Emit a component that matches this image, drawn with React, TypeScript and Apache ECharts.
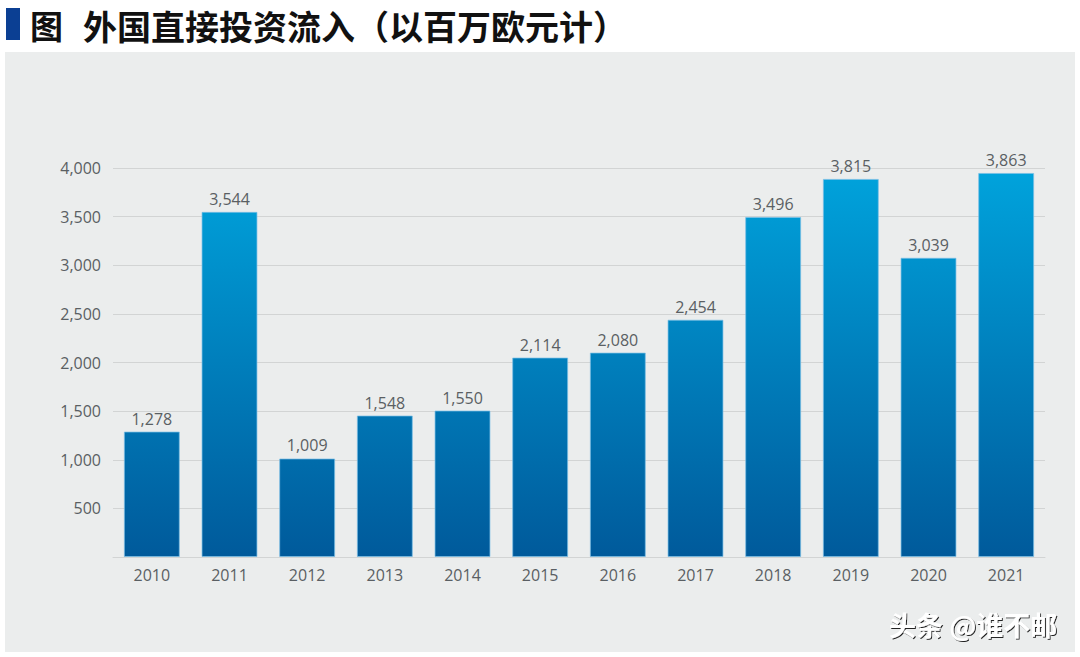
import React, { useEffect, useRef } from "react";
import * as echarts from "echarts";

const years = ["2010", "2011", "2012", "2013", "2014", "2015", "2016", "2017", "2018", "2019", "2020", "2021"];
// bar heights as drawn in the picture
const barValues = [1290, 3549, 1013, 1455, 1506, 2051, 2102, 2440, 3497, 3888, 3077, 3949];
// value labels as printed above the bars
const valueLabels = ["1,278", "3,544", "1,009", "1,548", "1,550", "2,114", "2,080", "2,454", "3,496", "3,815", "3,039", "3,863"];
const yTicks = [500, 1000, 1500, 2000, 2500, 3000, 3500, 4000];

const titleMark = "图";
const titleText = "外国直接投资流入（以百万欧元计）";
const watermark = "头条 @谁不邮";

export default function App() {
  const ref = useRef<HTMLDivElement>(null);
  useEffect(() => {
    if (!ref.current) return;
    const chart = echarts.init(ref.current, null, { renderer: "svg" });
    const font = "'Open Sans', Lato, sans-serif";
    chart.setOption({
      animation: false,
      backgroundColor: "#ffffff",
      graphic: [
        { type: "rect", z: -10, shape: { x: 5, y: 52, width: 1070, height: 600 }, style: { fill: "#ebeded" } },
        { type: "rect", shape: { x: 6, y: 8, width: 14, height: 32 }, style: { fill: "#0b3f93" } },
        {
          type: "text", x: 30, y: 25,
          style: {
            text: titleMark, fill: "#111111",
            font: "bold 33px 'Noto Sans CJK SC', sans-serif",
            textVerticalAlign: "middle",
          },
        },
        {
          type: "text", x: 83, y: 25,
          style: {
            text: titleText, fill: "#111111",
            font: "bold 34px 'Noto Sans CJK SC', sans-serif",
            textVerticalAlign: "middle",
          },
        },
        {
          type: "text", x: 889, y: 624, z: 100,
          style: {
            text: watermark, fill: "#ffffff",
            font: "bold 27px 'Noto Sans CJK SC', sans-serif",
            textVerticalAlign: "middle",
            textShadowColor: "rgba(0,0,0,0.85)", textShadowBlur: 1, textShadowOffsetX: 1, textShadowOffsetY: 1,
          },
        },
      ],
      grid: { left: 113, right: 35, top: 168, bottom: 100, containLabel: false },
      xAxis: {
        type: "category",
        data: years,
        axisLine: { show: true, lineStyle: { color: "#d2d4d4", width: 1 } },
        axisTick: { show: false },
        axisLabel: { color: "#5a5f63", fontSize: 16, fontFamily: font, margin: 10 },
      },
      yAxis: {
        type: "value",
        min: 0,
        max: 4000,
        interval: 500,
        axisLine: { show: false },
        axisTick: { show: false },
        splitLine: { lineStyle: { color: "#d2d4d4", width: 1 } },
        axisLabel: {
          color: "#5a5f63", fontSize: 16, fontFamily: font, margin: 12,
          formatter: (v: number) => (yTicks.includes(v) ? v.toLocaleString("en-US") : ""),
        },
      },
      series: [
        {
          type: "bar",
          data: barValues,
          barWidth: "72%",
          itemStyle: {
            color: new echarts.graphic.LinearGradient(0, 170, 0, 557, [
              { offset: 0, color: "#00a3dc" },
              { offset: 1, color: "#005a9b" },
            ], true),
            borderColor: "rgba(120,190,230,0.7)",
            borderWidth: 1,
          },
          label: {
            show: true,
            position: "top",
            distance: 5,
            color: "#5a5f63",
            fontSize: 16,
            fontFamily: font,
            formatter: (p: any) => valueLabels[p.dataIndex],
          },
        },
      ],
    });
    return () => chart.dispose();
  }, []);
  return <div ref={ref} style={{ position: "absolute", left: 0, top: 0, width: 1080, height: 657 }} />;
}
